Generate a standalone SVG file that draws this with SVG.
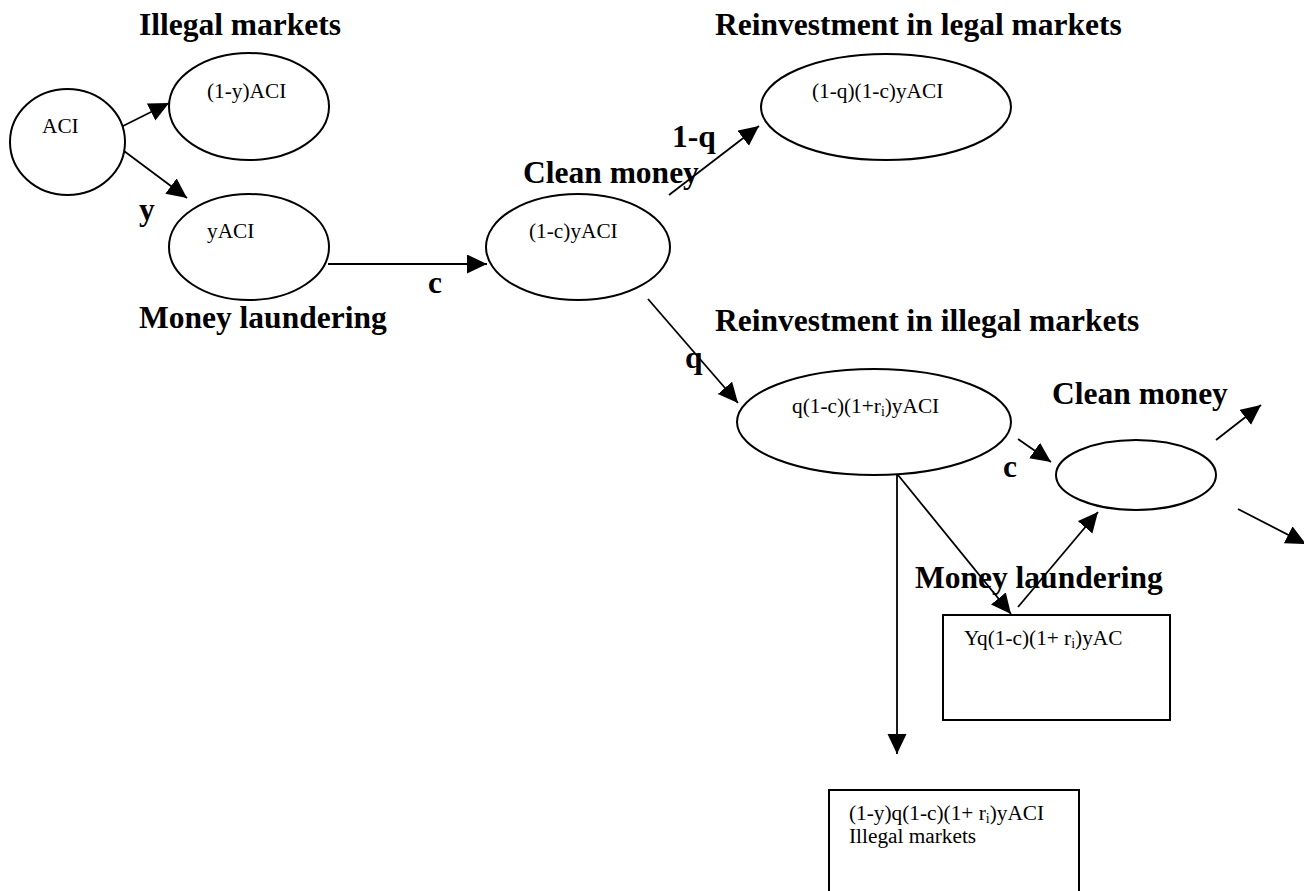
<svg xmlns="http://www.w3.org/2000/svg" width="1304" height="891" viewBox="0 0 1304 891">
<style>
.n{fill:#fff;stroke:#000;stroke-width:2}
.t{font-family:"Liberation Serif","Times New Roman",serif;font-size:21.3px;fill:#000}
.b{font-family:"Liberation Serif","Times New Roman",serif;font-size:31.5px;font-weight:bold;fill:#000}
.c{stroke:#000;stroke-width:1.8;fill:none;marker-end:url(#ah)}
.s{font-size:14px}
</style>
<defs>
<marker id="ah" markerUnits="userSpaceOnUse" markerWidth="21" markerHeight="20" refX="20" refY="9.5" orient="auto">
<path d="M0,0 L20,9.5 L0,19 z" fill="#000"/>
</marker>
</defs>
<rect width="1304" height="891" fill="#fff"/>
<g id="labels">
<text class="b" x="139" y="35">Illegal markets</text>
<text class="b" x="139" y="328">Money laundering</text>
<text class="b" x="139" y="220">y</text>
<text class="b" x="428" y="293">c</text>
<text class="b" x="523" y="183">Clean money</text>
<text class="b" x="672" y="147">1-q</text>
<text class="b" x="715" y="35">Reinvestment in legal markets</text>
<text class="b" x="715" y="331">Reinvestment in illegal markets</text>
<text class="b" x="685" y="368">q</text>
<text class="b" x="1052" y="404">Clean money</text>
<text class="b" x="1003" y="477">c</text>
<text class="b" x="915" y="588">Money laundering</text>
</g>
<g id="n-aci"><ellipse class="n" cx="67.5" cy="142" rx="57.5" ry="53"/><text class="t" x="42" y="133">ACI</text></g>
<g id="n-1yaci"><ellipse class="n" cx="249" cy="106.5" rx="80" ry="53.5"/><text class="t" x="207" y="98">(1-y)ACI</text></g>
<g id="n-yaci"><ellipse class="n" cx="249" cy="247" rx="80" ry="53"/><text class="t" x="207" y="238">yACI</text></g>
<g id="n-1cyaci"><ellipse class="n" cx="578" cy="247" rx="92" ry="53"/><text class="t" x="529" y="238">(1-c)yACI</text></g>
<g id="n-legal"><ellipse class="n" cx="886" cy="107" rx="125" ry="53"/><text class="t" x="812" y="98">(1-q)(1-c)yACI</text></g>
<g id="n-illegal"><ellipse class="n" cx="874" cy="422" rx="137" ry="53"/><text class="t" x="792" y="413">q(1-c)(1+r<tspan class="s" dy="3">i</tspan><tspan dy="-3">)yACI</tspan></text></g>
<g id="n-clean2"><ellipse class="n" cx="1136" cy="475" rx="80" ry="35"/></g>
<g id="n-launder2"><rect class="n" x="943" y="615" width="227" height="105"/><text class="t" x="964" y="645">Yq(1-c)(1+ r<tspan class="s" dy="3">i</tspan><tspan dy="-3">)yAC</tspan></text></g>
<g id="n-illegal2"><rect class="n" x="829" y="790" width="250" height="112"/><text class="t" x="849" y="820">(1-y)q(1-c)(1+ r<tspan class="s" dy="3">i</tspan><tspan dy="-3">)yACI</tspan></text><text class="t" x="849" y="843">Illegal markets</text></g>
<g id="connectors">
<line class="c" x1="123" y1="126" x2="169" y2="103"/>
<line class="c" x1="124" y1="151" x2="187" y2="198"/>
<line class="c" x1="328" y1="264" x2="487" y2="264"/>
<line class="c" x1="669" y1="195" x2="759" y2="126"/>
<line class="c" x1="648" y1="299" x2="738" y2="403"/>
<line class="c" x1="1018" y1="439" x2="1051" y2="462"/>
<line class="c" x1="897" y1="475" x2="897" y2="754"/>
<line class="c" x1="898" y1="475" x2="1011" y2="614"/>
<line class="c" x1="1018" y1="607" x2="1098" y2="512"/>
<line class="c" x1="1216" y1="440" x2="1261" y2="405"/>
<line class="c" x1="1238" y1="509" x2="1306" y2="544"/>
</g>
</svg>
